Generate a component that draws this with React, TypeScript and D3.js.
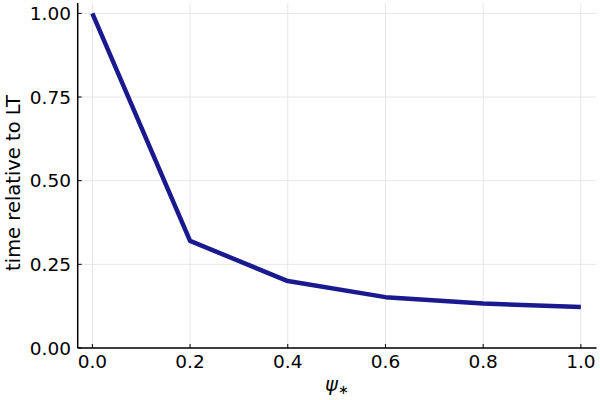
import React from "react";
import * as d3 from "d3";

const psiValues = [0.0, 0.2, 0.4, 0.6, 0.8, 1.0];
const timeRel = [1.0, 0.32, 0.2, 0.152, 0.133, 0.1225];
const xTicks = [0.0, 0.2, 0.4, 0.6, 0.8, 1.0];
const yTicks = [0.0, 0.25, 0.5, 0.75, 1.0];

const W = 600;
const H = 400;
const left = 77.7;
const right = 596.5;
const top = 3;
const bottom = 348;

export default function App() {
  const x = d3.scaleLinear().domain([-0.03, 1.032]).range([left, right]);
  const y = d3.scaleLinear().domain([0, 1.031]).range([bottom, top]);
  const line = d3
    .line<number>()
    .x((_, i) => x(psiValues[i]))
    .y((d) => y(d));
  const font = "DejaVu Sans";
  return (
    <svg
      width={W}
      height={H}
      style={{ position: "absolute", left: 0, top: 0, background: "#fff" }}
      fontFamily={font}
    >
      <rect x={0} y={0} width={W} height={H} fill="#fff" />
      {xTicks.map((t) => (
        <line key={"gx" + t} x1={x(t)} x2={x(t)} y1={top} y2={bottom} stroke="#e6e6e6" strokeWidth={1} />
      ))}
      {yTicks.map((t) => (
        <line key={"gy" + t} x1={left} x2={right} y1={y(t)} y2={y(t)} stroke="#e6e6e6" strokeWidth={1} />
      ))}
      <path d={line(timeRel) || ""} fill="none" stroke="#1a1a8e" strokeWidth={4.5} strokeLinejoin="round" />
      <line x1={left} x2={left} y1={top} y2={bottom} stroke="#000" strokeWidth={1.5} />
      <line x1={left} x2={right} y1={bottom} y2={bottom} stroke="#000" strokeWidth={1.5} />
      {xTicks.map((t) => (
        <g key={"tx" + t}>
          <line x1={x(t)} x2={x(t)} y1={bottom} y2={bottom - 4} stroke="#000" strokeWidth={1} />
          <text x={x(t)} y={368} textAnchor="middle" fontSize={18.5} fill="#000">
            {d3.format(".1f")(t)}
          </text>
        </g>
      ))}
      {yTicks.map((t) => (
        <g key={"ty" + t}>
          <line x1={left} x2={left + 4} y1={y(t)} y2={y(t)} stroke="#000" strokeWidth={1} />
          <text x={71} y={y(t)} dy="0.36em" textAnchor="end" fontSize={18.5} fill="#000">
            {d3.format(".2f")(t)}
          </text>
        </g>
      ))}
      <text x={337} y={391} textAnchor="middle" fontSize={19.5} fill="#000">
        <tspan fontStyle="italic">ψ</tspan>
        <tspan fontSize={13} dy={3}>∗</tspan>
      </text>
      <text
        transform={`translate(20, 183) rotate(-90)`}
        textAnchor="middle"
        fontSize={19.5}
        fill="#000"
      >
        time relative to LT
      </text>
    </svg>
  );
}
